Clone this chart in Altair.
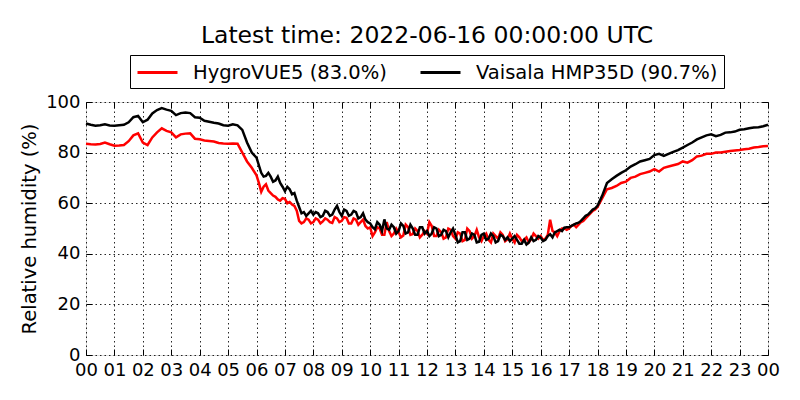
import altair as alt
import pandas as pd

# time grid (hours since 00 UTC): 10-min steps to 06, 5-min steps 06-18, 10-min steps 18-24
hours = ([i / 6 for i in range(36)]
         + [6 + i / 12 for i in range(144)]
         + [18 + i / 6 for i in range(37)])

# HygroVUE5 relative humidity (%)
hygro = [
    # 00-06 (10 min)
    83.5, 83.3, 83.2, 83.4, 84.0, 83.3,
    82.7, 82.8, 83.0, 84.5, 86.8, 87.6,
    84.0, 83.0, 86.0, 88.0, 89.6, 88.6,
    88.0, 86.0, 87.2, 87.5, 87.6, 85.5,
    85.3, 84.8, 84.6, 84.4, 83.8, 83.6,
    83.5, 83.6, 83.5, 80.0, 76.5, 74.0,
    # 06-18 (5 min)
    71.0, 68.0, 64.5, 66.5, 67.5, 65.0, 64.0, 63.0, 62.5, 61.5, 61.0, 62.0,
    61.7, 60.0, 60.5, 59.5, 58.9, 57.0, 53.0, 52.0, 52.5, 54.0, 53.5, 52.0,
    52.5, 54.0, 53.5, 52.0, 52.8, 54.0, 53.5, 52.5, 52.2, 54.5, 54.0, 52.5,
    53.0, 54.5, 54.2, 52.0, 52.0, 54.0, 53.5, 51.5, 52.5, 53.5, 51.0, 50.0,
    50.5, 47.0, 48.5, 50.5, 50.0, 47.5, 47.5, 52.5, 49.0, 47.0, 48.0, 50.0,
    48.5, 46.5, 47.2, 51.5, 50.5, 47.5, 47.8, 50.0, 49.0, 46.5, 47.5, 49.0,
    48.0, 52.5, 51.0, 47.0, 47.0, 49.5, 48.5, 46.0, 46.5, 50.0, 49.5, 47.0,
    46.0, 48.5, 48.0, 45.0, 45.5, 50.0, 49.0, 46.0, 47.0, 49.5, 46.5, 45.0,
    47.0, 48.0, 45.5, 44.5, 48.0, 47.0, 46.0, 48.5, 47.5, 45.0, 45.8, 48.0,
    46.0, 44.5, 47.5, 46.5, 45.0, 45.5, 46.5, 44.5, 45.8, 48.0, 47.0, 46.0,
    47.0, 45.5, 46.0, 47.5, 53.5, 49.0, 48.5, 47.0, 49.0, 50.0, 50.0, 49.5,
    50.0, 51.0, 51.5, 50.5, 51.5, 52.5, 53.0, 54.0, 55.0, 56.0, 57.0, 57.5,
    # 18-24 (10 min)
    58.5, 62.0, 65.5, 66.0, 66.8, 68.0,
    68.5, 70.0, 70.5, 71.5, 72.0, 72.5,
    73.5, 72.5, 74.0, 74.5, 75.0, 75.5,
    76.5, 76.0, 77.0, 78.5, 78.8, 79.5,
    79.5, 80.0, 80.0, 80.3, 80.6, 80.8,
    81.0, 81.3, 81.5, 82.0, 82.2, 82.5,
    82.6,
]

# Vaisala HMP35D relative humidity (%)
vaisala = [
    # 00-06 (10 min)
    91.5, 91.0, 90.6, 90.8, 91.2, 90.7,
    90.6, 90.8, 91.0, 92.0, 94.0, 94.5,
    92.0, 93.0, 95.5, 96.8, 97.6, 97.0,
    96.5, 94.8, 95.6, 95.8, 95.6, 94.0,
    93.8, 92.6, 92.2, 91.8, 91.5, 90.8,
    90.6, 91.2, 90.8, 89.0, 84.0, 80.0,
    # 06-18 (5 min)
    78.0, 75.0, 72.0, 70.5, 70.8, 72.0, 70.5, 68.5, 69.0, 70.5, 68.0, 66.5,
    64.8, 66.5, 65.5, 63.5, 64.0, 61.0, 58.5, 56.0, 56.5, 55.0, 56.0, 57.0,
    55.5, 56.5, 56.0, 54.5, 55.0, 57.0, 56.5, 55.0, 55.5, 57.5, 59.0, 56.5,
    55.0, 57.5, 57.0, 55.0, 55.5, 57.0, 56.5, 54.0, 54.5, 56.0, 53.5, 52.5,
    52.0, 50.5, 49.7, 52.5, 51.5, 49.0, 53.6, 50.0, 49.5, 51.5, 50.5, 48.0,
    49.0, 52.0, 51.0, 48.0, 48.5, 51.5, 50.0, 47.5, 47.5, 50.5, 50.5, 48.0,
    49.0, 47.0, 48.0, 50.5, 50.0, 47.0, 47.5, 49.5, 49.0, 46.5, 48.5, 50.0,
    47.5, 44.5, 45.0, 48.5, 48.5, 45.5, 46.0, 48.0, 47.5, 44.5, 44.8, 47.5,
    48.0, 45.5, 46.0, 48.0, 47.0, 44.5, 45.0, 47.5, 47.0, 45.5, 46.5, 45.0,
    46.0, 47.0, 45.5, 44.0, 44.0, 45.5, 43.7, 44.5, 46.5, 45.0, 45.5, 47.0,
    46.4, 45.0, 45.5, 47.0, 47.7, 46.5, 48.5, 49.0, 49.5, 49.0, 50.3, 50.5,
    50.5, 51.0, 51.5, 52.0, 52.3, 53.0, 54.0, 55.0, 55.5, 56.5, 57.5, 58.0,
    # 18-24 (10 min)
    59.0, 63.0, 68.0, 69.5, 70.8, 72.0,
    73.0, 74.5, 75.4, 76.5, 77.0, 77.5,
    79.0, 79.5, 78.7, 79.5, 80.3, 81.0,
    82.0, 83.0, 84.0, 85.2, 86.0, 86.8,
    87.2, 86.5, 87.0, 87.9, 88.0, 88.3,
    89.0, 89.2, 89.6, 89.9, 90.0, 90.4,
    91.0,
]

series_names = ["HygroVUE5 (83.0%)", "Vaisala HMP35D (90.7%)"]
series_colors = ["#ff0000", "#000000"]
x_ticks = list(range(25))
y_ticks = [0, 20, 40, 60, 80, 100]
title_text = "Latest time: 2022-06-16 00:00:00 UTC"
y_title = "Relative humidity (%)"

df = pd.DataFrame({
    "hour": hours + hours,
    "rh": hygro + vaisala,
    "series": [series_names[0]] * len(hygro) + [series_names[1]] * len(vaisala),
})

FONT = "DejaVu Sans"
xscale = alt.Scale(domain=[0, 24], nice=False, zero=False)
yscale = alt.Scale(domain=[0, 100], nice=False)
label_expr = "(datum.value % 24 < 10 ? '0' : '') + (datum.value % 24)"
grid_style = dict(grid=True, gridColor="#000000", gridDash=[1.5, 3], gridWidth=1, gridOpacity=0.85)

main = alt.Chart(df).mark_line(strokeWidth=2.5).encode(
    x=alt.X("hour:Q", scale=xscale, axis=alt.Axis(
        orient="bottom", values=x_ticks, labelExpr=label_expr, ticks=False, domain=False,
        labelFontSize=18, labelFont=FONT, labelColor="#000000", labelPadding=6,
        labelFlush=False, labelOverlap=False, title=None, **grid_style)),
    y=alt.Y("rh:Q", scale=yscale, axis=alt.Axis(
        orient="left", values=y_ticks, ticks=False, domain=False,
        labelFontSize=18, labelFont=FONT, labelColor="#000000", labelPadding=6,
        labelFlush=False, labelOverlap=False,
        title=y_title, titleFont=FONT, titleFontSize=19.5, titleFontWeight="normal",
        titleColor="#000000", titleX=-57, titleY=126.5, titleAngle=-90,
        titleBaseline="middle", titleAlign="center", **grid_style)),
    color=alt.Color("series:N", scale=alt.Scale(domain=series_names, range=series_colors),
                    legend=alt.Legend(
                        title=None, orient="none", legendX=44, legendY=-47,
                        direction="horizontal", strokeColor="#000000", fillColor="#ffffff",
                        padding=6, symbolType="M-1,0H3", symbolSize=400,
                        symbolStrokeWidth=3, labelOffset=34, columnPadding=27,
                        labelFontSize=19.5, labelFont=FONT, labelColor="#000000",
                        labelLimit=400, cornerRadius=0)),
)


def tick_layer(xorient, yorient):
    return alt.Chart(df).mark_line(strokeOpacity=0).encode(
        x=alt.X("hour:Q", scale=xscale, axis=alt.Axis(
            orient=xorient, values=x_ticks, offset=-6, tickSize=6, tickWidth=1,
            tickColor="#000000", labels=False, domain=False, grid=False, title=None)),
        y=alt.Y("rh:Q", scale=yscale, axis=alt.Axis(
            orient=yorient, values=y_ticks, offset=-6, tickSize=6, tickWidth=1,
            tickColor="#000000", labels=False, domain=False, grid=False, title=None)),
        detail="series:N",
    )


chart = alt.layer(
    main, tick_layer("bottom", "left"), tick_layer("top", "right")
).resolve_axis(x="independent", y="independent").properties(
    width=682, height=253,
    autosize=alt.AutoSizeParams(type="none"),
    padding={"left": 78, "top": 94, "right": 20, "bottom": 30},
    title=alt.Title(title_text, font=FONT, fontSize=23.5, fontWeight="normal",
                    color="#000000", anchor="middle", offset=7),
).configure_view(stroke="#000000", strokeWidth=1.2).configure(background="#ffffff")

chart.save("out.html", embed_options={"renderer": "svg", "actions": False})
